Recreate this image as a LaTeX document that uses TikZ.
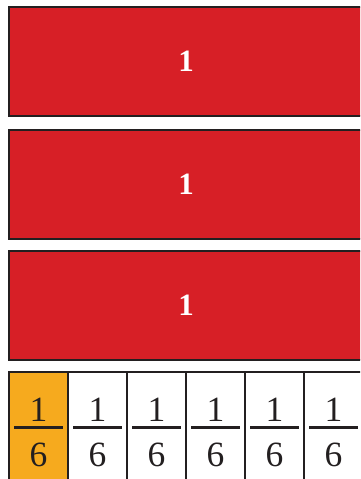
\documentclass[tikz,border=0pt]{standalone}
\usepackage{fontspec}
\setmainfont{Liberation Serif}
\definecolor{barred}{HTML}{D71F26}
\definecolor{partorange}{HTML}{F6AA1E}
\definecolor{edgeink}{HTML}{231F20}
\tikzset{
  wholebar/.style={draw=edgeink, line width=2.7pt, fill=barred, text=white,
    minimum width=354pt, minimum height=109pt, inner sep=0pt,
    font=\fontsize{31}{31}\selectfont\bfseries},
  sixthcell/.style={draw=edgeink, line width=2.7pt,
    minimum width=59pt, minimum height=109pt, inner sep=0pt},
  digit/.style={inner sep=0pt, text=edgeink, font=\fontsize{35.5}{35.5}\selectfont},
  fracline/.style={edgeink, line width=2.4pt},
}
\begin{document}
\begin{tikzpicture}[x=1pt, y=-1pt]
  \useasboundingbox (0,0) rectangle (360,479);
  \clip (0,0) rectangle (360,479);

  % Three wholes
  \node[wholebar] (whole1) at (186, 61.5) {1};
  \node[wholebar] (whole2) at (186, 184.5) {1};
  \node[wholebar] (whole3) at (186, 305.5) {1};

  % One whole cut in sixths
  \foreach \i/\col [evaluate=\i as \x using 38.5+59*(\i-1)] in
      {1/partorange, 2/white, 3/white, 4/white, 5/white, 6/white} {
    \node[sixthcell, fill=\col] (cell\i) at (\x, 426.5) {};
    \node[digit, anchor=base] (num\i) at (\x, 421.5) {1};
    \node[digit, anchor=base] (den\i) at (\x, 466) {6};
    \draw[fracline] ([shift={(-24.5,57)}]cell\i.north)
      -- ([shift={(24.5,57)}]cell\i.north);
  }
\end{tikzpicture}
\end{document}
